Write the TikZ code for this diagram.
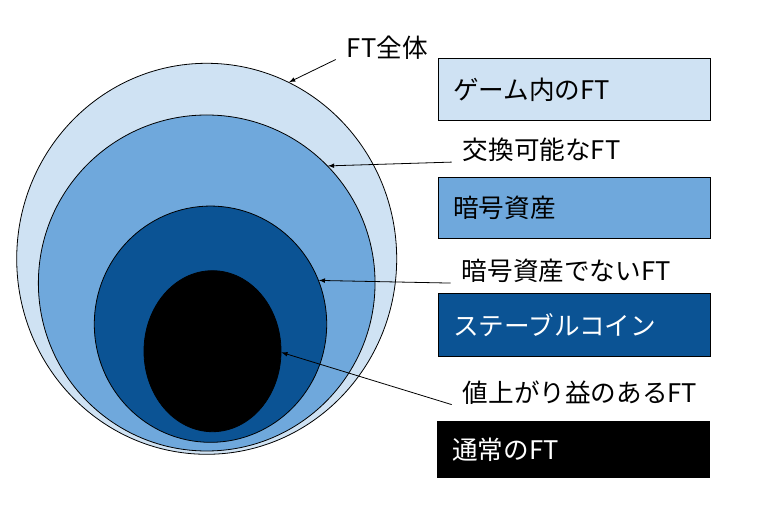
\documentclass[tikz,border=0pt]{standalone}
\usepackage{fontspec}
\setmainfont{Noto Sans CJK JP}
\usetikzlibrary{shapes.geometric}

\definecolor{ftlight}{HTML}{CFE2F3}
\definecolor{ftmid}{HTML}{6FA8DC}
\definecolor{ftdark}{HTML}{0B5394}

\tikzset{
    ftset/.style={ellipse, draw, line width=0.6pt, inner sep=0pt},
    legendbox/.style={draw, line width=0.9pt, anchor=north west, minimum width=204pt,
        text width=181.5pt, inner xsep=11.25pt, align=left, font=\fontsize{19.2}{23}\selectfont},
    setlabel/.style={anchor=west, inner xsep=8.25pt, inner ysep=0pt, font=\fontsize{19.2}{23}\selectfont}
}

\begin{document}
\begin{tikzpicture}[x=0.75pt, y=-0.75pt]
    \useasboundingbox (0,0) rectangle (757,505);

    % nested sets
    \node[ftset, fill=ftlight, minimum width=285pt, minimum height=293.25pt] (allft) at (206.7,258.8) {};
    \node[ftset, fill=ftmid, minimum width=252.5pt, minimum height=252pt] (tradeft) at (206.7,283) {};
    \node[ftset, fill=ftdark, minimum width=174.3pt, minimum height=177.2pt] (nonassetft) at (210.5,324.2) {};
    \node[ftset, fill=black, minimum width=102.75pt, minimum height=120.75pt] (gainft) at (212.5,351.2) {};

    % legend
    \node[legendbox, fill=ftlight, minimum height=46.3pt] (gamebox) at (437.5,58.3) {ゲーム内のFT};
    \node[legendbox, fill=ftmid, minimum height=45.8pt] (cryptobox) at (437.7,176.7) {暗号資産};
    \node[legendbox, fill=ftdark, text=white, minimum height=47pt] (stablebox) at (437.7,293.3) {ステーブルコイン};
    \node[legendbox, fill=black, text=white, minimum height=42.2pt] (normalbox) at (436.7,421) {通常のFT};

    % labels
    \node[setlabel] (alllbl) at (335.7,47.5) {FT全体};
    \node[setlabel] (tradelbl) at (451.7,150) {交換可能なFT};
    \node[setlabel] (nonassetlbl) at (450.7,271) {暗号資産でないFT};
    \node[setlabel] (gainlbl) at (451.7,392.5) {値上がり益のあるFT};

    \draw[->, >=latex, line width=0.6pt] (alllbl.south west) -- (allft.65);
    \draw[->, >=latex, line width=0.6pt] (tradelbl.south west) -- (tradeft.44.5);
    \draw[->, >=latex, line width=0.6pt] (nonassetlbl.south west) -- (nonassetft.22);
    \draw[->, >=latex, line width=0.6pt] (gainlbl.south west) -- (gainft.-1);
\end{tikzpicture}
\end{document}
